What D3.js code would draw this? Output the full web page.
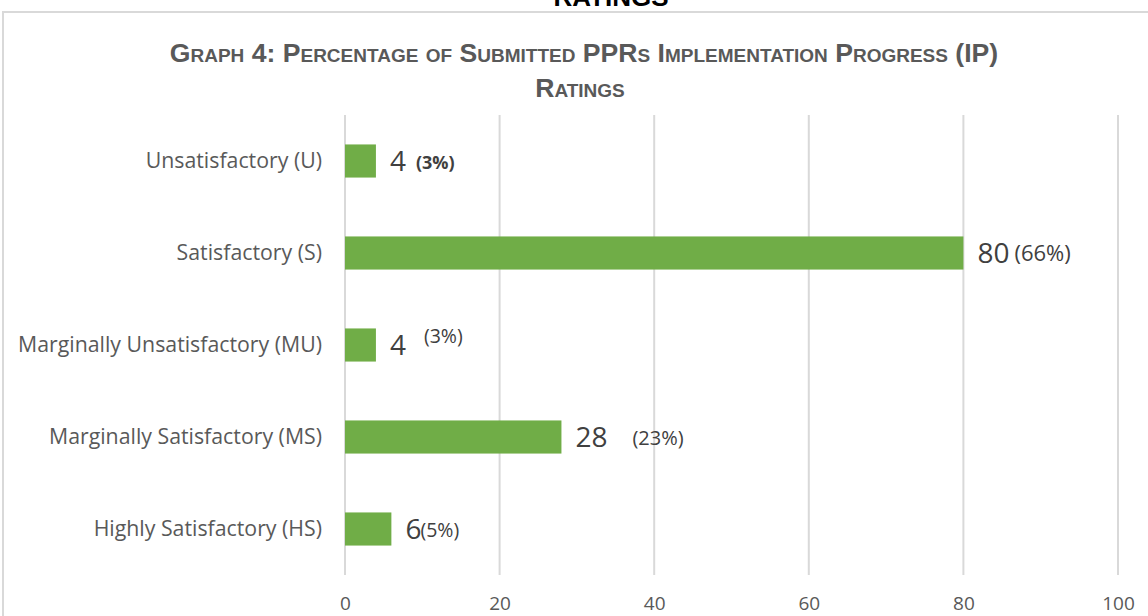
<!DOCTYPE html>
<html><head><meta charset="utf-8">
<script src="https://cdn.jsdelivr.net/npm/d3@7"></script>
<style>body{margin:0;background:#fff;} svg{display:block;}</style>
</head><body>
<svg id="c" width="1148" height="616"></svg>
<script>
const categories = ["Unsatisfactory (U)","Satisfactory (S)","Marginally Unsatisfactory (MU)","Marginally Satisfactory (MS)","Highly Satisfactory (HS)"];
const values = [4, 80, 4, 28, 6];
const percentLabels = ["(3%)","(66%)","(3%)","(23%)","(5%)"];
const xTicks = [0, 20, 40, 60, 80, 100];
const titleLines = ["Graph 4: Percentage of Submitted PPRs Implementation Progress (IP)", "Ratings"];
// label layout nudges (styling only): gap after value, vertical shift, font size, bold
const pctGap = [10, 5, 18, 25, -1];
const pctDy = [0, 0, -10, 0, 0];
const pctSize = [18, 22, 19.5, 20, 19.5];
const pctBold = [true, false, false, false, false];

const svg = d3.select("#c");
const x = d3.scaleLinear().domain([0,100]).range([345, 1118]);
const y = d3.scaleBand().domain(categories).range([115, 575]).paddingInner(0.64).paddingOuter(0.32);

// cut-off heading above (partially visible in the reference)
svg.append("text").attr("x", 611).attr("y", 6).attr("text-anchor","middle")
  .attr("font-family","Liberation Sans Narrow, Arial Narrow, sans-serif").attr("font-weight","bold")
  .attr("font-size",26).attr("fill","#000").text("RATINGS");

// chart border
svg.append("rect").attr("x",3).attr("y",12).attr("width",1170).attr("height",640)
  .attr("fill","none").attr("stroke","#d9d9d9").attr("stroke-width",2);

// title
const tt = svg.append("text").attr("text-anchor","middle")
  .attr("font-family","Liberation Sans Narrow, sans-serif").attr("font-weight","bold")
  .attr("font-size",26.6).attr("fill","#595959").style("font-variant","small-caps");
tt.append("tspan").attr("x",584).attr("y",62).text(titleLines[0]);
tt.append("tspan").attr("x",580).attr("y",97).text(titleLines[1]);

// grid
svg.append("g").selectAll("line").data(xTicks).join("line")
  .attr("x1", d=>x(d)).attr("x2", d=>x(d)).attr("y1",115).attr("y2",575)
  .attr("stroke","#d9d9d9").attr("stroke-width",2);

// axis labels
const ax = svg.append("g").attr("transform","translate(0,575)")
  .call(d3.axisBottom(x).tickValues(xTicks).tickSize(0).tickPadding(22));
ax.select(".domain").remove();
ax.selectAll("text").attr("font-family","Open Sans, sans-serif").attr("font-size",19).attr("fill","#595959");

// category labels
const ay = svg.append("g").attr("transform","translate(345,0)")
  .call(d3.axisLeft(y).tickSize(0).tickPadding(23));
ay.select(".domain").remove();
ay.selectAll("text").attr("font-family","Open Sans, sans-serif").attr("font-size",21.3).attr("fill","#595959");

// bars
const data = categories.map((c,i)=>({c, v:values[i], p:percentLabels[i], i}));
svg.append("g").selectAll("rect").data(data).join("rect")
  .attr("x", x(0)).attr("y", d=>y(d.c)).attr("width", d=>x(d.v)-x(0)).attr("height", y.bandwidth())
  .attr("fill","#70ad47");

// value labels
const lg = svg.append("g");
data.forEach(d=>{
  const cy = y(d.c) + y.bandwidth()/2;
  const t = lg.append("text").attr("x", x(d.v)+14).attr("y", cy+10)
    .attr("font-family","Open Sans, sans-serif").attr("font-size",28).attr("fill","#404040").text(d.v);
  const w = t.node().getComputedTextLength();
  lg.append("text").attr("x", x(d.v)+14+w+pctGap[d.i]).attr("y", cy+8+pctDy[d.i])
    .attr("font-family","Open Sans, sans-serif").attr("font-size",pctSize[d.i])
    .attr("font-weight", pctBold[d.i]?"bold":"normal").attr("fill","#404040").text(d.p);
});
</script>
</body></html>
